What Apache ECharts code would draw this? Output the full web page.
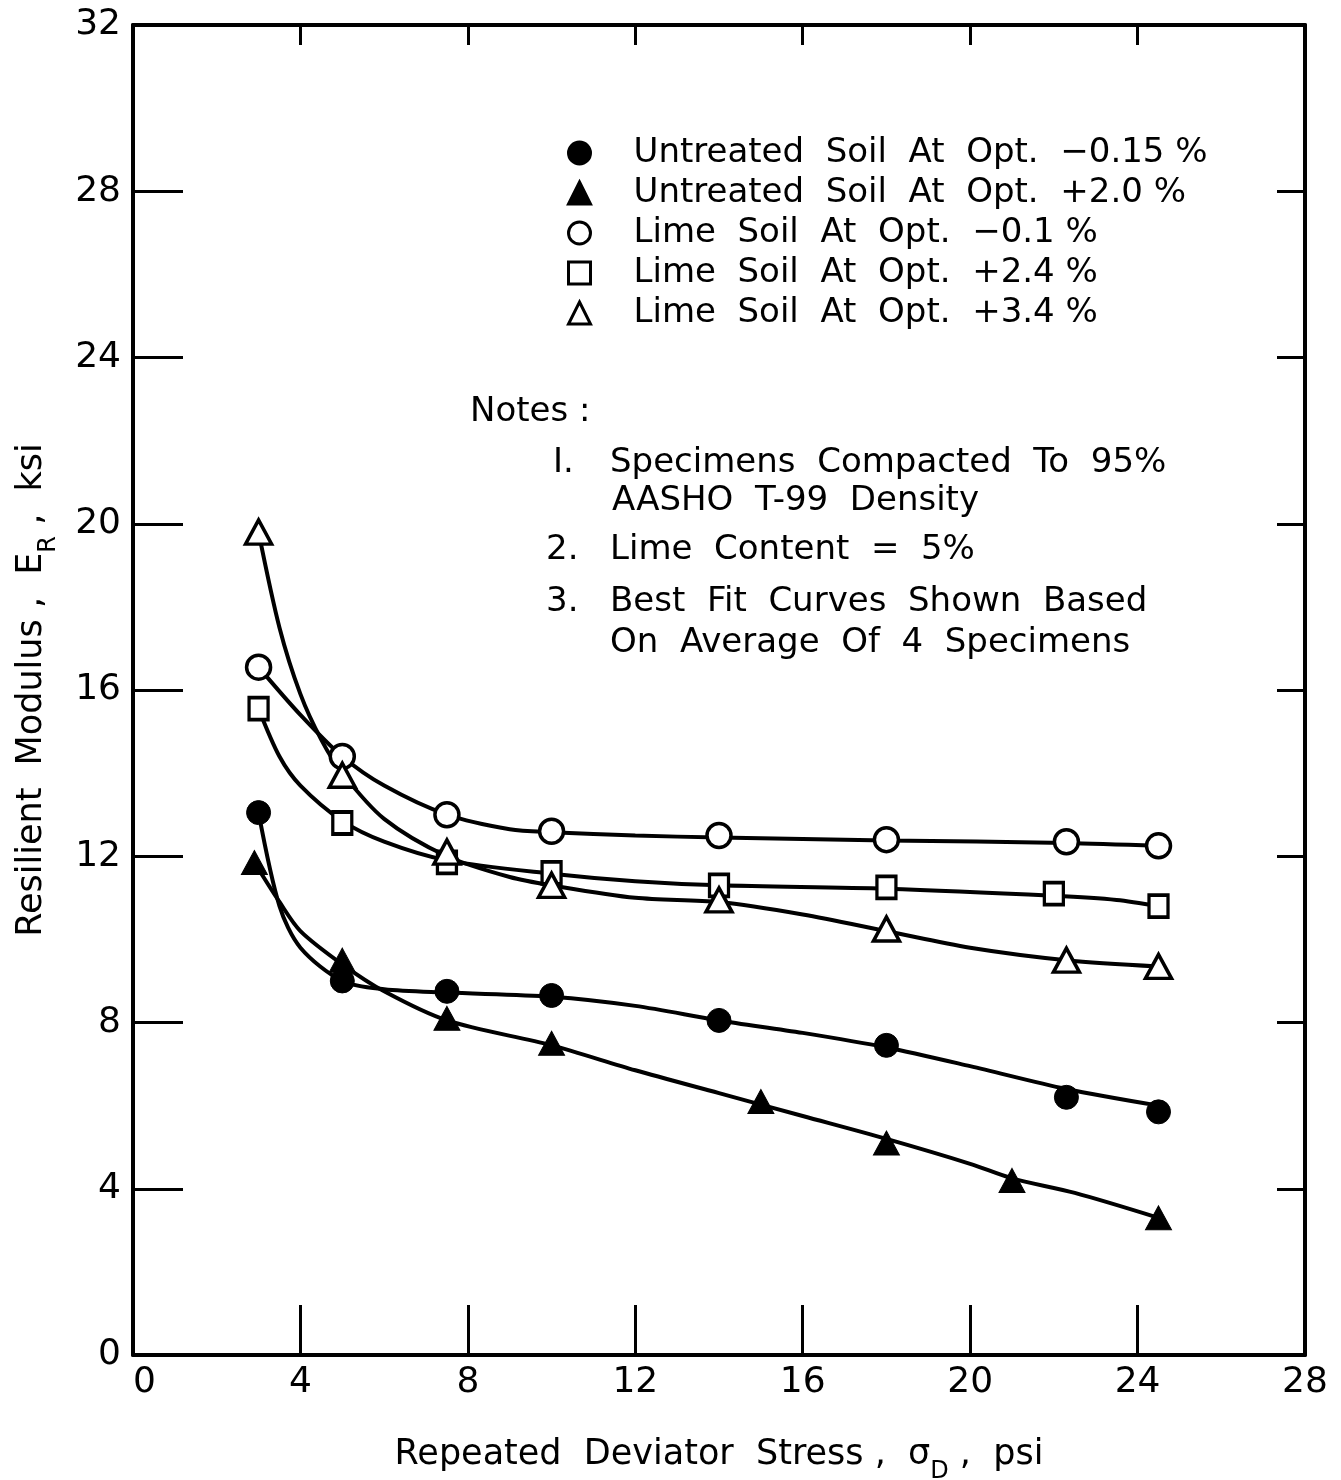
<!DOCTYPE html>
<html>
<head>
<meta charset="utf-8">
<script src="https://cdn.jsdelivr.net/npm/echarts@6/dist/echarts.min.js"></script>
<style>
  html, body { margin: 0; padding: 0; background: #fff; }
  #chart { width: 1341px; height: 1480px; }
</style>
</head>
<body>
<div id="chart"></div>
<script>
// measured points, [stress psi, modulus ksi]
var untreatedDry = [[3, 13.05], [5, 9.0], [7.5, 8.75], [10, 8.65], [14, 8.05], [18, 7.45], [22.3, 6.2], [24.5, 5.85]];
var untreatedWet = [[2.9, 11.85], [5, 9.5], [7.5, 8.1], [10, 7.5], [15, 6.1], [18, 5.1], [21, 4.2], [24.5, 3.3]];
var limeDry = [[3, 16.55], [5, 14.4], [7.5, 13.0], [10, 12.6], [14, 12.5], [18, 12.4], [22.3, 12.35], [24.5, 12.25]];
var limeWet24 = [[3, 15.55], [5, 12.8], [7.5, 11.85], [10, 11.6], [14, 11.3], [18, 11.25], [22, 11.1], [24.5, 10.8]];
var limeWet34 = [[3, 19.8], [5, 13.95], [7.5, 12.1], [10, 11.3], [14, 10.95], [18, 10.25], [22.3, 9.5], [24.5, 9.35]];

// best fit curves as drawn in the figure
var curveUntreatedDry = [[3, 13.05], [3.5, 10.8], [4, 9.8], [5, 9.0], [6, 8.8], [7.5, 8.72], [10, 8.62], [12, 8.4], [14, 8.05], [16, 7.75], [18, 7.4], [20, 6.95], [22.3, 6.4], [24.5, 6.0]];
var curveUntreatedWet = [[2.9, 11.85], [3.5, 10.9], [4, 10.2], [5, 9.4], [6, 8.75], [7.5, 8.05], [10, 7.45], [12, 6.85], [14, 6.3], [16, 5.75], [18, 5.2], [20, 4.6], [21, 4.25], [22.5, 3.9], [24.5, 3.3]];
var curveLimeDry = [[3, 16.55], [4, 15.4], [5, 14.4], [6, 13.7], [7.5, 13.0], [9, 12.65], [10, 12.58], [12, 12.5], [14, 12.45], [18, 12.38], [22.3, 12.32], [24.5, 12.25]];
var curveLimeWet24 = [[3, 15.55], [3.5, 14.4], [4, 13.7], [5, 12.85], [6, 12.35], [7.5, 11.9], [10, 11.58], [12, 11.4], [14, 11.3], [18, 11.22], [22, 11.05], [23.5, 10.95], [24.5, 10.8]];
var curveLimeWet34 = [[3, 19.8], [3.5, 17.5], [4, 15.9], [4.5, 14.8], [5, 14.0], [6, 12.9], [7.5, 12.0], [9, 11.5], [10, 11.3], [12, 11.0], [14, 10.9], [16, 10.6], [18, 10.2], [20, 9.8], [22.3, 9.5], [24.5, 9.35]];

var seriesNames = [
    'Untreated  Soil  At  Opt.  −0.15 %',
    'Untreated  Soil  At  Opt.  +2.0 %',
    'Lime  Soil  At  Opt.  −0.1 %',
    'Lime  Soil  At  Opt.  +2.4 %',
    'Lime  Soil  At  Opt.  +3.4 %'
];
var seriesData = [untreatedDry, untreatedWet, limeDry, limeWet24, limeWet34];
var curveData = [curveUntreatedDry, curveUntreatedWet, curveLimeDry, curveLimeWet24, curveLimeWet34];
var symbols = ['circle', 'triangle', 'circle', 'rect', 'triangle'];
var symbolSizes = [24, [26, 24], 24, [19, 22], [26, 24]];
var hollow = [false, false, true, true, true];

var notes = [
    ['Notes :', 470, 414],
    ['I.', 553, 465],
    ['Specimens  Compacted  To  95%', 610, 465],
    ['AASHO  T-99  Density', 612, 503],
    ['2.', 546, 552],
    ['Lime  Content  =  5%', 610, 552],
    ['3.', 546, 604],
    ['Best  Fit  Curves  Shown  Based', 610, 604],
    ['On  Average  Of  4  Specimens', 610, 645]
];

var FONT = 'DejaVu Sans';

function createChart(){
    var myChart = echarts.init(document.getElementById('chart'));
    var series = [];
    for (var i = 0; i < curveData.length; i++) {
        series.push({
            name: 'curve' + i,
            type: 'line',
            data: curveData[i],
            smooth: 0.3,
            showSymbol: false,
            silent: true,
            z: 2,
            lineStyle: {color: '#000', width: 4}
        });
    }
    for (var i = 0; i < seriesData.length; i++) {
        series.push({
            name: seriesNames[i],
            type: 'scatter',
            data: seriesData[i],
            symbol: symbols[i],
            symbolSize: symbolSizes[i],
            z: 5,
            itemStyle: hollow[i]
                ? {color: '#fff', borderColor: '#000', borderWidth: 3.5, opacity: 1}
                : {color: '#000', borderColor: '#000', borderWidth: 1, opacity: 1}
        });
    }
    var legendData = [];
    for (var i = 0; i < seriesNames.length; i++) {
        legendData.push({name: seriesNames[i], icon: symbols[i]});
    }
    var graphics = [];
    for (var i = 0; i < notes.length; i++) {
        graphics.push({
            type: 'text',
            left: notes[i][1],
            top: notes[i][2] - 19,
            style: {text: notes[i][0], font: '34px "' + FONT + '"', fill: '#000'}
        });
    }

    myChart.setOption({
        backgroundColor: '#fff',
        animation: false,
        textStyle: {fontFamily: FONT, color: '#000'},
        grid: {left: 133, right: 36, top: 25, bottom: 125, outerBoundsMode: 'none', containLabel: false},
        legend: {
            orient: 'vertical',
            left: 562,
            top: 131,
            itemWidth: 22,
            itemHeight: 22,
            itemGap: 6,
            selectedMode: false,
            data: legendData,
            itemStyle: {borderWidth: 3},
            textStyle: {fontSize: 34, color: '#000', fontFamily: FONT, padding: [0, 0, 0, 38]}
        },
        xAxis: [{
            type: 'value',
            min: 0, max: 28, interval: 4,
            name: 'Repeated  Deviator  Stress ,  σ{sub|D} ,  psi',
            nameLocation: 'middle',
            nameGap: 82,
            nameTextStyle: {
                fontSize: 35, color: '#000', fontFamily: FONT,
                rich: {sub: {fontSize: 24, verticalAlign: 'bottom', lineHeight: 24, padding: [0, 0, -12, 0]}}
            },
            axisLine: {onZero: false, lineStyle: {color: '#000', width: 4}},
            axisTick: {inside: true, length: 50, lineStyle: {color: '#000', width: 3}},
            axisLabel: {fontSize: 36, color: '#000', margin: 10, alignMinLabel: 'left'},
            splitLine: {show: false}
        }, {
            type: 'value',
            position: 'top',
            min: 0, max: 28, interval: 4,
            axisLine: {onZero: false, lineStyle: {color: '#000', width: 4}},
            axisTick: {inside: true, length: 20, lineStyle: {color: '#000', width: 3}},
            axisLabel: {show: false},
            splitLine: {show: false}
        }],
        yAxis: [{
            type: 'value',
            min: 0, max: 32, interval: 4,
            name: 'Resilient  Modulus ,  E{sub|R} ,  ksi',
            nameLocation: 'middle',
            nameGap: 84,
            nameTextStyle: {
                fontSize: 35, color: '#000', fontFamily: FONT,
                rich: {sub: {fontSize: 24, verticalAlign: 'bottom', lineHeight: 24, padding: [0, 0, -12, 0]}}
            },
            axisLine: {onZero: false, lineStyle: {color: '#000', width: 4}},
            axisTick: {inside: true, length: 50, lineStyle: {color: '#000', width: 3}},
            axisLabel: {fontSize: 36, color: '#000', margin: 12},
            splitLine: {show: false}
        }, {
            type: 'value',
            position: 'right',
            min: 0, max: 32, interval: 4,
            axisLine: {onZero: false, lineStyle: {color: '#000', width: 4}},
            axisTick: {inside: true, length: 28, lineStyle: {color: '#000', width: 3}},
            axisLabel: {show: false},
            splitLine: {show: false}
        }],
        graphic: graphics,
        series: series
    });
}
createChart();
</script>
</body>
</html>
